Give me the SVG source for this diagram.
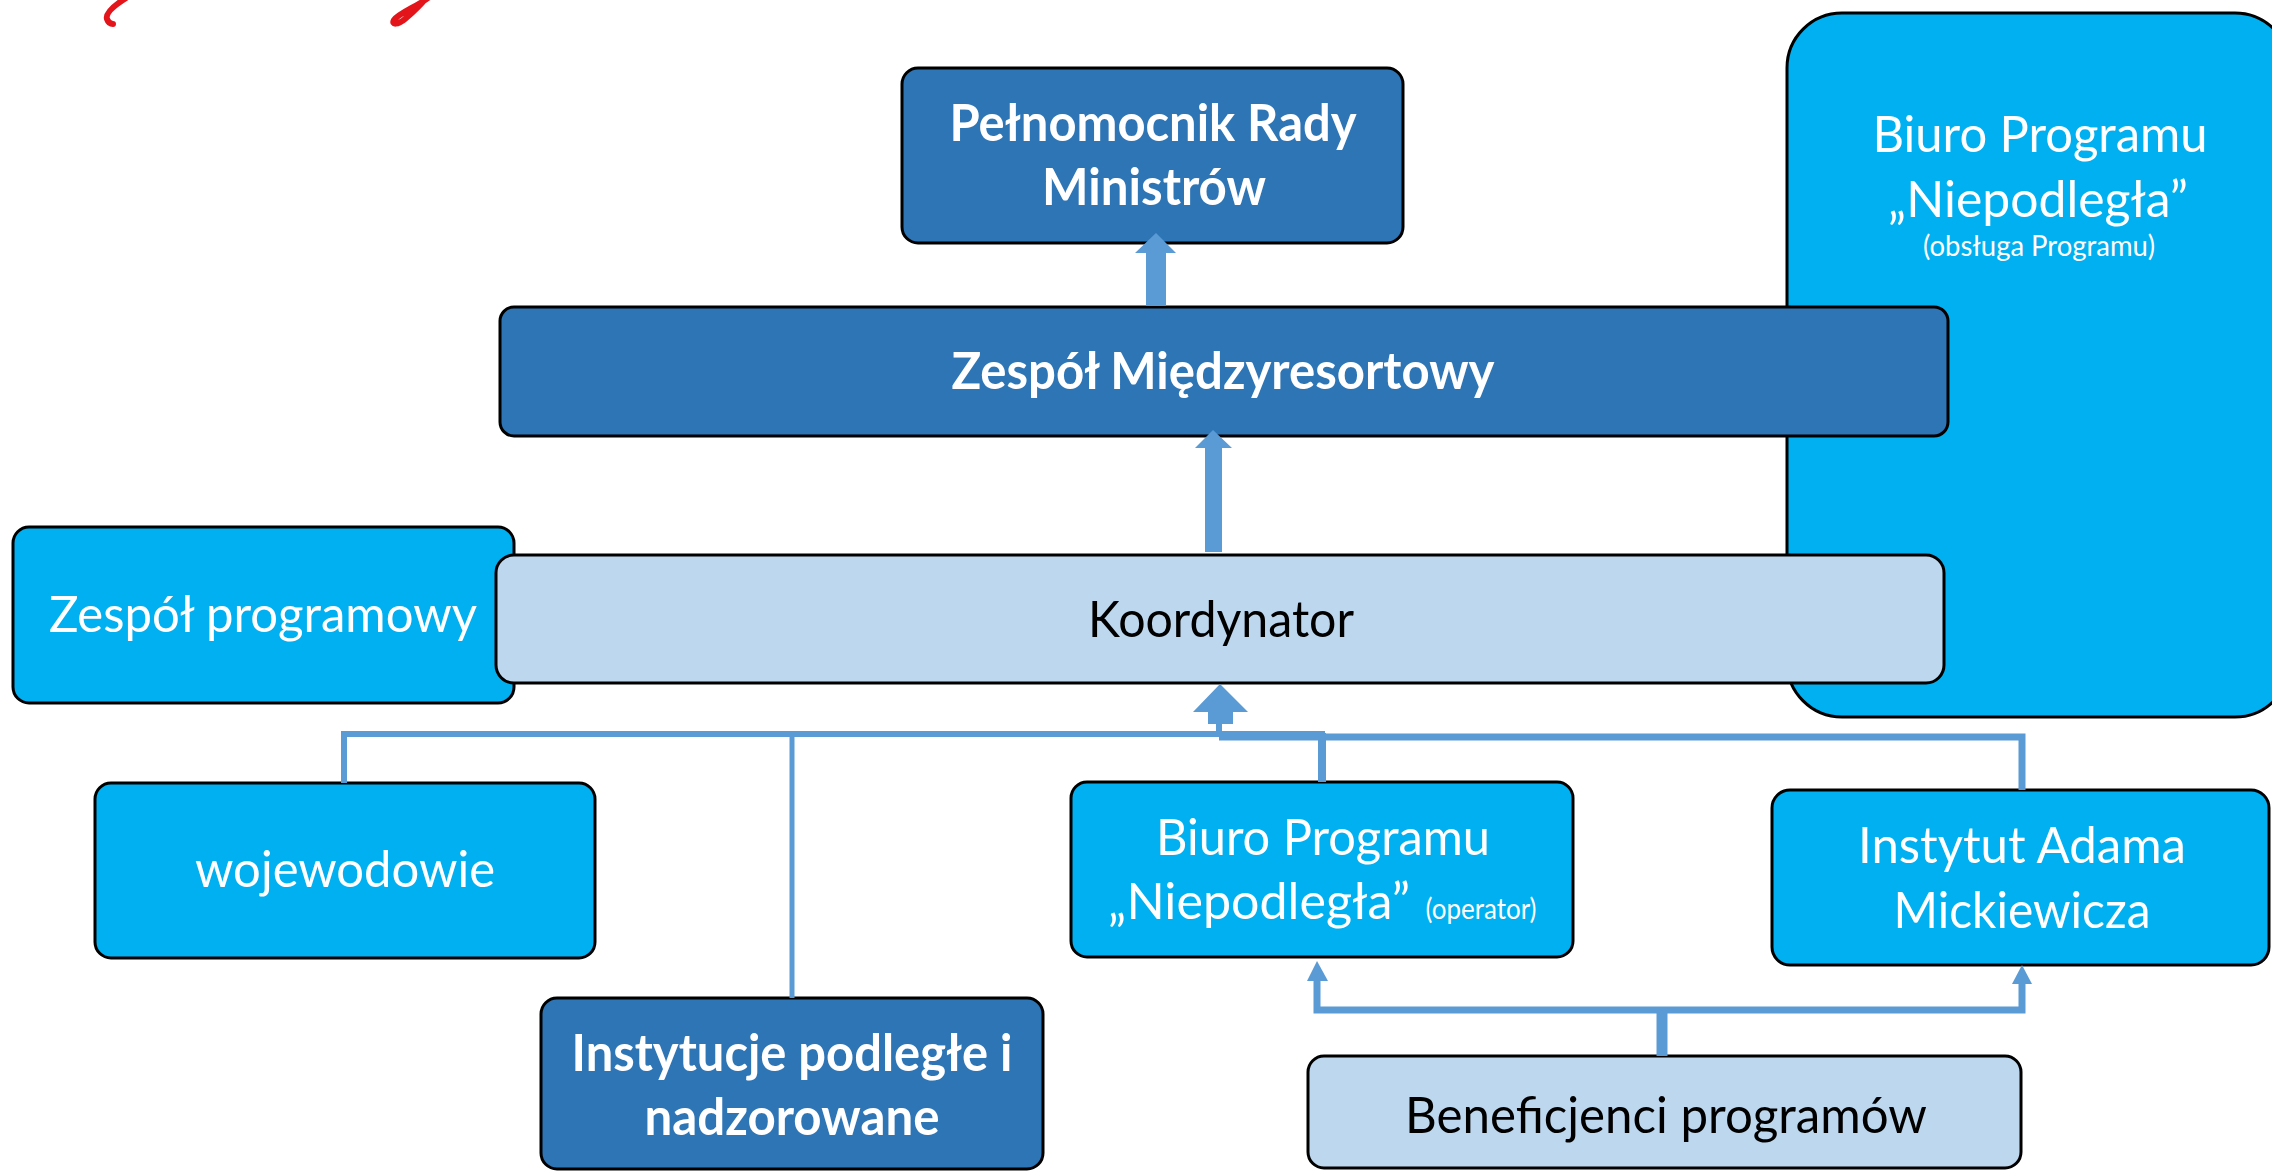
<svg xmlns="http://www.w3.org/2000/svg" width="2272" height="1171" viewBox="0 0 2272 1171">
<style>
.box{stroke:#000;stroke-width:3}
.dark{fill:#2E75B6}
.mid{fill:#00B0F0}
.light{fill:#BDD7EE}
.t{font-family:Lato,"Open Sans","Liberation Sans",sans-serif;font-size:51px;text-anchor:middle}
.w{fill:#fff}
.k{fill:#000}
.b{font-weight:bold}
.s{font-size:28px}
.con{fill:none;stroke:#5B9BD5}
.ah{fill:#5B9BD5}
</style>
<rect width="2272" height="1171" fill="#fff"/>
<g id="logo" fill="none" stroke="#E3151A" stroke-width="6" stroke-linecap="round">
<path d="M126,-2 C115,5 105,13 107,19 C108,22 110,24 113,24"/>
<path d="M428,-2 C418,6 399,13 394,20 C391,25 398,25 405,19 C412,13 420,6 426,-2"/>
</g>
<g id="biuro-obsluga">
<rect class="box mid" x="1787" y="13" width="503" height="704" rx="55"/>
<text class="t w" x="2040" y="152" textLength="335" lengthAdjust="spacingAndGlyphs">Biuro Programu</text>
<text class="t w" x="2038" y="217" textLength="300" lengthAdjust="spacingAndGlyphs">„Niepodległa”</text>
<text class="t w s" x="2039" y="256" textLength="232" lengthAdjust="spacingAndGlyphs">(obsługa Programu)</text>
</g>
<g id="pelnomocnik">
<rect class="box dark" x="902" y="68" width="501" height="175" rx="16"/>
<text class="t w b" x="1153" y="141" textLength="407" lengthAdjust="spacingAndGlyphs">Pełnomocnik Rady</text>
<text class="t w b" x="1154" y="205" textLength="224" lengthAdjust="spacingAndGlyphs">Ministrów</text>
</g>
<g id="zespol-miedzyresortowy">
<rect class="box dark" x="500" y="307" width="1448" height="129" rx="14"/>
<text class="t w b" x="1223" y="389" textLength="543" lengthAdjust="spacingAndGlyphs">Zespół Międzyresortowy</text>
</g>
<g id="zespol-programowy">
<rect class="box mid" x="13" y="527" width="501" height="176" rx="16"/>
<text class="t w" x="263" y="632" textLength="428" lengthAdjust="spacingAndGlyphs">Zespół programowy</text>
</g>
<g id="koordynator">
<rect class="box light" x="496" y="555" width="1448" height="128" rx="18"/>
<text class="t k" x="1221" y="637" textLength="266" lengthAdjust="spacingAndGlyphs">Koordynator</text>
</g>
<g id="wojewodowie">
<rect class="box mid" x="95" y="783" width="500" height="175" rx="16"/>
<text class="t w" x="345" y="887" textLength="300" lengthAdjust="spacingAndGlyphs">wojewodowie</text>
</g>
<g id="biuro-operator">
<rect class="box mid" x="1071" y="782" width="502" height="175" rx="16"/>
<text class="t w" x="1323" y="855" textLength="334" lengthAdjust="spacingAndGlyphs">Biuro Programu</text>
<text class="t w" x="1259" y="919" textLength="302" lengthAdjust="spacingAndGlyphs">„Niepodległa”</text>
<text class="t w s" x="1481" y="919" textLength="111" lengthAdjust="spacingAndGlyphs">(operator)</text>
</g>
<g id="instytut-adama-mickiewicza">
<rect class="box mid" x="1772" y="790" width="497" height="175" rx="18"/>
<text class="t w" x="2022" y="863" textLength="328" lengthAdjust="spacingAndGlyphs">Instytut Adama</text>
<text class="t w" x="2022" y="928" textLength="257" lengthAdjust="spacingAndGlyphs">Mickiewicza</text>
</g>
<g id="instytucje-podlegle">
<rect class="box dark" x="541" y="998" width="502" height="171" rx="16"/>
<text class="t w b" x="792" y="1071" textLength="441" lengthAdjust="spacingAndGlyphs">Instytucje podległe i</text>
<text class="t w b" x="792" y="1135" textLength="295" lengthAdjust="spacingAndGlyphs">nadzorowane</text>
</g>
<g id="beneficjenci">
<rect class="box light" x="1308" y="1056" width="713" height="112" rx="16"/>
<text class="t k" x="1666" y="1133" textLength="522" lengthAdjust="spacingAndGlyphs">Beneficjenci programów</text>
</g>
<g id="connectors">
<polygon class="ah" points="1146,306 1146,253 1135,253 1156,233 1176,253 1166,253 1166,306"/>
<polygon class="ah" points="1205,552 1205,448 1195,448 1213,430 1232,448 1222,448 1222,552"/>
<path class="con" stroke-width="6" d="M344,783 V734 H1325"/>
<path class="con" stroke-width="5" d="M792,998 V734"/>
<path class="con" stroke-width="7" d="M1219,737 H2022 V790"/>
<path class="con" stroke-width="8" d="M1322,782 V733"/>
<path class="con" stroke-width="6" d="M1219,737 V722"/>
<polygon class="ah" points="1208,724 1208,712 1193,712 1220,684 1248,712 1233,712 1233,724"/>
<path class="con" stroke-width="11" d="M1662,1056 V1010"/>
<path class="con" stroke-width="7" d="M1317,980 V1010 H2022 V983"/>
<polygon class="ah" points="1307,981 1317,961 1328,981"/>
<polygon class="ah" points="2012,984 2022,965 2032,984"/>
</g>
</svg>
